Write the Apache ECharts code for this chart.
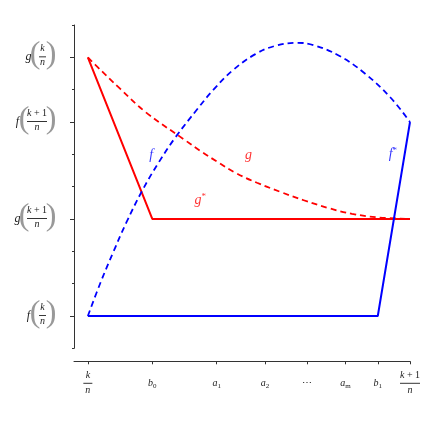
<!DOCTYPE html>
<html><head><meta charset="utf-8">
<script src="https://cdn.jsdelivr.net/npm/echarts@6/dist/echarts.min.js"></script>
<style>html,body{margin:0;padding:0;background:#fff}#c{width:436px;height:436px}</style>
</head><body><div id="c"></div>
<script>
// curve f (blue dashed)
const fX = [0, 0.04, 0.08, 0.12, 0.17, 0.22, 0.27, 0.34, 0.39, 0.45, 0.52, 0.58, 0.65, 0.70, 0.78, 0.86, 0.94, 1.0];
const fY = [0, 1.05, 2.0, 2.9, 3.9, 4.75, 5.5, 6.4, 7.0, 7.6, 8.1, 8.35, 8.45, 8.38, 8.05, 7.5, 6.75, 6.0];
// curve g (red dashed)
const gX = [0, 0.025, 0.1, 0.18, 0.3, 0.35, 0.4, 0.46, 0.525, 0.6, 0.67, 0.75, 0.82, 0.9, 1.0];
const gY = [8, 7.75, 7.03, 6.3, 5.45, 5.1, 4.78, 4.42, 4.12, 3.83, 3.58, 3.33, 3.16, 3.05, 3.0];
// g* (red solid) and f* (blue solid)
const gStarX = [0, 0.2, 1.0];
const gStarY = [8, 3, 3];
const fStarX = [0, 0.9, 1.0];
const fStarY = [0, 0, 6];
// axis ticks
const xTicks = [0, 0.2, 0.4, 0.55, 0.68, 0.8, 0.9, 1];
const xTickText = ['k/n', 'b_0', 'a_1', 'a_2', '\u22EF', 'a_m', 'b_1', 'k + 1/n'];
const yTicksAll = [-1, 0, 1, 2, 3, 4, 5, 6, 7, 8, 9];
const yTicks = [0, 3, 6, 8];
const yTickText = ['f(k/n)', 'g(k + 1/n)', 'f(k + 1/n)', 'g(k/n)'];
// curve names placed in the plot
const redNames = ['g', 'g*'];
const redNameX = [0.499, 0.349];
const redNameY = [4.97, 3.58];
const blueNames = ['f', 'f*'];
const blueNameX = [0.197, 0.947];
const blueNameY = [4.97, 5.0];

const zip = (a, b) => a.map((v, i) => [v, b[i]]);
const SERIF = 'Liberation Serif';
const TXT = '#222';
const RED = '#ff0000', BLUE = '#0000ff';

function yFmt(v) {
  const i = yTicks.indexOf(v);
  if (i < 0) return '';
  const s = yTickText[i];
  const fn = s[0];
  const inner = s.slice(2, -1);
  const [num, den] = inner.split('/');
  if (num.length > 1) {
    return '{s7| }{s6| }{nk|k}{nr| + 1}{s1| }{s6| }\n' +
           '{fn|' + fn + '}{po|(}{bw| }{s1| }{pc|)}\n' +
           '{s7| }{s6| }{dw|' + den + '}{s1| }{s6| }';
  }
  return '{s11| }{s7| }{s6| }{s1| }{nn|' + num + '}{s2| }{s6| }\n' +
         '{s11| }{fn|' + fn + '}{po|(}{s1| }{bn| }{s2| }{pc|)}\n' +
         '{s11| }{s7| }{s6| }{s1| }{dn|' + den + '}{s2| }{s6| }';
}
function xFmt(v) {
  const i = xTicks.findIndex(t => Math.abs(t - v) < 1e-9);
  if (i < 0) return '';
  const s = xTickText[i];
  if (s.indexOf('/') >= 0) {
    const [num, den] = s.split('/');
    if (num.length > 1) return '{nk|k}{nr| + 1}\n{bw| }\n{dw|' + den + '}';
    return '{n|' + num + '}\n{bn| }\n{n|' + den + '}';
  }
  if (s.indexOf('_') >= 0) {
    const [m, sub] = s.split('_');
    return '{xi|' + m + '}{xsub|' + sub + '}';
  }
  return '{xd|' + s + '}';
}
const sp = (w) => ({width: w, fontSize: 6, lineHeight: 1, color: 'rgba(0,0,0,0)'});
const yRich = {
  nn: {fontFamily: SERIF, fontStyle: 'italic', fontSize: 10, lineHeight: 10, width: 7, color: TXT},
  nk: {fontFamily: SERIF, fontStyle: 'italic', fontSize: 10, lineHeight: 10, color: TXT},
  nr: {fontFamily: SERIF, fontSize: 10, lineHeight: 10, color: TXT},
  dn: {fontFamily: SERIF, fontStyle: 'italic', fontSize: 10, lineHeight: 6, width: 7, color: TXT},
  dw: {fontFamily: SERIF, fontStyle: 'italic', fontSize: 10, lineHeight: 6, width: 20, color: TXT},
  bn: {width: 7, height: 1, lineHeight: 6, backgroundColor: '#333', fontSize: 6},
  bw: {width: 20, height: 1, lineHeight: 6, backgroundColor: '#333', fontSize: 6},
  po: {fontFamily: SERIF, fontSize: 32, lineHeight: 6, width: 6, padding: [0, 0, 4, 0], color: '#999'},
  pc: {fontFamily: SERIF, fontSize: 32, lineHeight: 6, width: 6, padding: [0, 0, 4, 0], color: '#999'},
  fn: {fontFamily: SERIF, fontStyle: 'italic', fontSize: 12, lineHeight: 6, width: 7, color: TXT},
  s1: sp(1), s2: sp(2), s6: sp(6), s7: sp(7), s11: sp(11)
};
const xRich = {
  n: {fontFamily: SERIF, fontStyle: 'italic', fontSize: 10, lineHeight: 9, width: 9, color: TXT},
  dw: {fontFamily: SERIF, fontStyle: 'italic', fontSize: 10, lineHeight: 9, width: 20, color: TXT},
  nk: {fontFamily: SERIF, fontStyle: 'italic', fontSize: 10, lineHeight: 9, color: TXT},
  nr: {fontFamily: SERIF, fontSize: 10, lineHeight: 9, color: TXT},
  bn: {width: 9, height: 1, lineHeight: 6, backgroundColor: '#333', fontSize: 6},
  bw: {width: 20, height: 1, lineHeight: 6, backgroundColor: '#333', fontSize: 6},
  xi: {fontFamily: SERIF, fontStyle: 'italic', fontSize: 10, lineHeight: 24, color: TXT},
  xsub: {fontFamily: SERIF, fontSize: 7, lineHeight: 24, padding: [6, 0, 0, 0], color: TXT},
  xd: {fontFamily: SERIF, fontSize: 10, lineHeight: 24, color: TXT}
};
const nameRich = (c) => ({
  i: {fontFamily: SERIF, fontStyle: 'italic', fontSize: 14, color: c},
  sup: {fontFamily: SERIF, fontSize: 9, padding: [0, 0, 8, 0], color: c}
});
const nameFmt = (p) => {
  const t = p.data.name;
  return t.length > 1 ? '{i|' + t[0] + '}{sup|' + t[1] + '}' : '{i|' + t + '}';
};

const chart = echarts.init(document.getElementById('c'), null, {renderer: 'canvas'});
chart.setOption({
  animation: false,
  backgroundColor: '#fff',
  grid: {left: 74, top: 25, width: 336, height: 323.3},
  xAxis: {
    type: 'value', min: -0.043, max: 1, offset: 13,
    axisLine: {onZero: false, lineStyle: {color: '#333', width: 1}},
    axisTick: {customValues: xTicks, length: 3, lineStyle: {color: '#333'}},
    axisLabel: {customValues: xTicks, formatter: xFmt, margin: 10, align: 'center', rich: xRich},
    splitLine: {show: false}
  },
  yAxis: [{
    type: 'value', min: -1, max: 9, interval: 1,
    axisLine: {show: true, onZero: false, lineStyle: {color: '#333', width: 1}},
    axisTick: {show: true, customValues: yTicksAll, length: 2, lineStyle: {color: '#333'}},
    axisLabel: {show: false},
    splitLine: {show: false}
  }, {
    type: 'value', min: -1, max: 9, position: 'left', offset: 0,
    axisLine: {show: false, onZero: false},
    axisTick: {show: true, customValues: yTicks, length: 4, lineStyle: {color: '#333'}},
    axisLabel: {customValues: yTicks, formatter: yFmt, margin: 40, align: 'center',
                padding: [0, 0, 5, 0], rich: yRich},
    splitLine: {show: false}
  }],
  series: [
    {type: 'line', data: zip(gX, gY), smooth: 0.4, symbol: 'none', lineStyle: {color: RED, width: 1.8, type: [6, 4]}},
    {type: 'line', data: zip(gStarX, gStarY), symbol: 'none', lineStyle: {color: RED, width: 2}},
    {type: 'line', data: zip(fX, fY), smooth: 0.4, symbol: 'none', lineStyle: {color: BLUE, width: 1.8, type: [6, 4]}},
    {type: 'line', data: zip(fStarX, fStarY), symbol: 'none', lineStyle: {color: BLUE, width: 2}},
    {type: 'scatter', symbolSize: 1, itemStyle: {color: 'rgba(0,0,0,0)'},
     data: redNames.map((n, i) => ({name: n, value: [redNameX[i], redNameY[i]]})),
     label: {show: true, position: 'inside', formatter: nameFmt, rich: nameRich(RED)}},
    {type: 'scatter', symbolSize: 1, itemStyle: {color: 'rgba(0,0,0,0)'},
     data: blueNames.map((n, i) => ({name: n, value: [blueNameX[i], blueNameY[i]]})),
     label: {show: true, position: 'inside', formatter: nameFmt, rich: nameRich(BLUE)}}
  ]
});
</script></body></html>
